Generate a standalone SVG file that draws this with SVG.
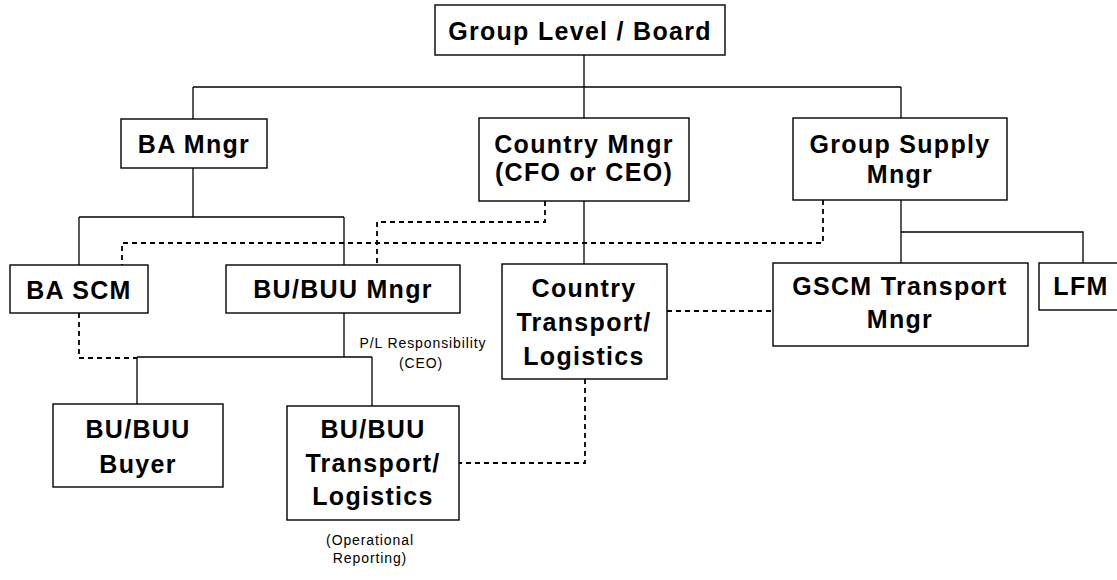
<svg xmlns="http://www.w3.org/2000/svg" width="1117" height="580" viewBox="0 0 1117 580">
  <style>
    .box { fill: #ffffff; stroke: #000000; stroke-width: 1.4; }
    .lbl { font-family: "Liberation Sans", Arial, sans-serif; font-weight: bold; font-size: 25px; letter-spacing: 1.3px; text-anchor: middle; fill: #000000; }
    .note { font-family: "Liberation Sans", Arial, sans-serif; font-size: 14px; text-anchor: middle; fill: #000000; letter-spacing: 0.9px; }
    .solid { fill: none; stroke: #000000; stroke-width: 1.3; }
    .dash { fill: none; stroke: #000000; stroke-width: 1.8; stroke-dasharray: 5 4; }
  </style>
  <rect width="1117" height="580" fill="#ffffff"/>

  <!-- reporting lines -->
  <g id="connectors">
    <!-- solid: line authority -->
    <path class="solid" d="M584 55 V118"/>
    <path class="solid" d="M193 87 H901"/>
    <path class="solid" d="M193 87 V119"/>
    <path class="solid" d="M901 87 V118"/>
    <path class="solid" d="M193 168 V217"/>
    <path class="solid" d="M79 217 H344"/>
    <path class="solid" d="M79 217 V265"/>
    <path class="solid" d="M344 217 V265"/>
    <path class="solid" d="M584 201 V264"/>
    <path class="solid" d="M901 200 V263"/>
    <path class="solid" d="M901 232 H1083 V263"/>
    <path class="solid" d="M344 313 V357"/>
    <path class="solid" d="M137 357 H372"/>
    <path class="solid" d="M137 357 V404"/>
    <path class="solid" d="M372 357 V406"/>
    <!-- dashed: functional links -->
    <path class="dash" d="M545 201 V222 H377 V265"/>
    <path class="dash" d="M823 200 V243 H122 V265"/>
    <path class="dash" d="M79 313 V358 H137"/>
    <path class="dash" d="M667 311 H773"/>
    <path class="dash" d="M585 379 V463 H459"/>
  </g>

  <g id="group-board">
    <rect class="box" x="435" y="5" width="290" height="50"/>
    <text class="lbl" x="580" y="40">Group Level / Board</text>
  </g>

  <g id="ba-mngr">
    <rect class="box" x="121" y="119" width="146" height="49"/>
    <text class="lbl" x="194" y="153">BA Mngr</text>
  </g>

  <g id="country-mngr">
    <rect class="box" x="479" y="118" width="210" height="83"/>
    <text class="lbl" x="584" y="153">Country Mngr</text>
    <text class="lbl" x="584" y="181">(CFO or CEO)</text>
  </g>

  <g id="group-supply-mngr">
    <rect class="box" x="793" y="118" width="214" height="82"/>
    <text class="lbl" x="900" y="153">Group Supply</text>
    <text class="lbl" x="900" y="183">Mngr</text>
  </g>

  <g id="ba-scm">
    <rect class="box" x="10" y="265" width="138" height="48"/>
    <text class="lbl" x="79" y="299">BA SCM</text>
  </g>

  <g id="bu-mngr">
    <rect class="box" x="226" y="265" width="234" height="48"/>
    <text class="lbl" x="343" y="298">BU/BUU Mngr</text>
  </g>

  <g id="country-transport">
    <rect class="box" x="502" y="264" width="165" height="115"/>
    <text class="lbl" x="584" y="297">Country</text>
    <text class="lbl" x="584" y="331">Transport/</text>
    <text class="lbl" x="584" y="365">Logistics</text>
  </g>

  <g id="gscm-transport">
    <rect class="box" x="773" y="263" width="255" height="83"/>
    <text class="lbl" x="900" y="295">GSCM Transport</text>
    <text class="lbl" x="900" y="328">Mngr</text>
  </g>

  <g id="lfm">
    <rect class="box" x="1039" y="263" width="90" height="47"/>
    <text class="lbl" x="1081" y="295">LFM</text>
  </g>

  <g id="bu-buyer">
    <rect class="box" x="53" y="404" width="170" height="83"/>
    <text class="lbl" x="138" y="438">BU/BUU</text>
    <text class="lbl" x="138" y="473">Buyer</text>
  </g>

  <g id="bu-transport">
    <rect class="box" x="287" y="406" width="172" height="114"/>
    <text class="lbl" x="373" y="438">BU/BUU</text>
    <text class="lbl" x="373" y="472">Transport/</text>
    <text class="lbl" x="373" y="505">Logistics</text>
  </g>

  <g id="notes">
    <text class="note" x="423" y="348">P/L Responsibility</text>
    <text class="note" x="421" y="368">(CEO)</text>
    <text class="note" x="370" y="545">(Operational</text>
    <text class="note" x="370" y="563">Reporting)</text>
  </g>
</svg>
